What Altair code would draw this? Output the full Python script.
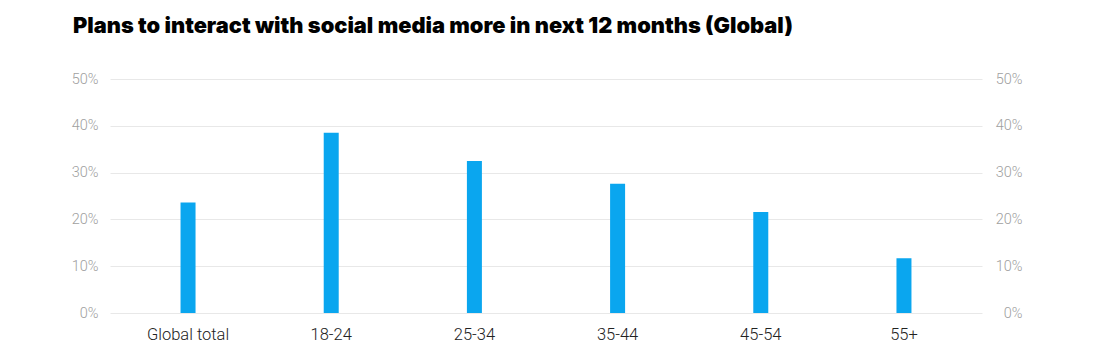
import altair as alt
import pandas as pd

categories = ["Global total", "18-24", "25-34", "35-44", "45-54", "55+"]
values = [23.6, 38.5, 32.5, 27.6, 21.6, 11.7]

df = pd.DataFrame({"group": categories, "share": [v / 100 for v in values]})

FONT = "Roboto"

x = alt.X(
    "group:N",
    sort=categories,
    title=None,
    scale=alt.Scale(paddingInner=0, paddingOuter=0.045),
    axis=alt.Axis(
        labelAngle=0, labelFontSize=16.5, labelColor="#222222", labelFont=FONT,
        labelFontWeight=300, labelPadding=13, ticks=False, domain=False, grid=False,
    ),
)

yscale = alt.Scale(domain=[0, 0.5])

bars = alt.Chart(df).mark_bar(color="#0aa6ef", size=15).encode(
    x=x,
    y=alt.Y(
        "share:Q", title=None, scale=yscale,
        axis=alt.Axis(
            format="%", values=[0, 0.1, 0.2, 0.3, 0.4, 0.5], orient="left",
            labelFontSize=14.5, labelColor="#a0a0a0", labelFont=FONT, labelFontWeight=300,
            labelPadding=12, ticks=False, domain=False, gridColor="#e8e8e8",
        ),
    ),
)

right = alt.Chart(df).mark_bar(opacity=0).encode(
    x=x,
    y=alt.Y(
        "share:Q", title=None, scale=yscale,
        axis=alt.Axis(
            format="%", values=[0, 0.1, 0.2, 0.3, 0.4, 0.5], orient="right",
            labelFontSize=14.5, labelColor="#a0a0a0", labelFont=FONT, labelFontWeight=300,
            labelPadding=40, labelAlign="right", ticks=False, domain=False, grid=False,
        ),
    ),
)

chart = alt.layer(bars, right).resolve_scale(y="independent").properties(
    width=872,
    height=234,
    autosize=alt.AutoSizeParams(type="none"),
    padding={"left": 102, "top": 71, "right": 110, "bottom": 40},
    title=alt.TitleParams(
        "Plans to interact with social media more in next 12 months (Global)",
        anchor="start", frame="group", font="Inter", fontSize=21.8, fontWeight=900,
        color="#000000", dx=-37, offset=33,
    ),
).configure_view(stroke=None)

chart.save("out.html", embed_options={"renderer": "svg", "actions": False})
